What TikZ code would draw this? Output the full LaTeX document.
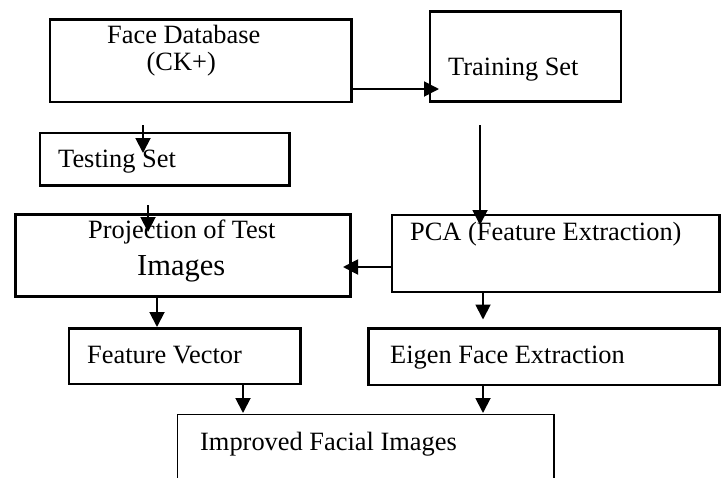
\documentclass[tikz,border=0pt]{standalone}
\usepackage{fontspec}
\setmainfont{Liberation Serif}
\usetikzlibrary{arrows.meta}
\begin{document}
\begin{tikzpicture}[x=1pt,y=-1pt,
  box/.style={draw, line width=2.8pt, rectangle, inner sep=0pt, outer sep=0pt},
  thinbox/.style={draw, line width=1.6pt, rectangle, inner sep=0pt, outer sep=0pt},
  lbl/.style={anchor=base west, inner sep=0pt, font=\fontsize{26.4}{30}\selectfont},
  biglbl/.style={anchor=base west, inner sep=0pt, font=\fontsize{30.5}{34}\selectfont},
  arr/.style={line width=1.9pt, -{Triangle[length=15pt,width=15pt]}}]
\useasboundingbox (0,0) rectangle (725,477);
\clip (0,0) rectangle (725,477);

% boxes
\node[box, minimum width=301.3pt, minimum height=82.5pt] (fdb) at (200.65,60.75) {};
\node[box, minimum width=191pt, minimum height=90pt] (trn) at (525.5,56.5) {};
\node[box, minimum width=249.5pt, minimum height=52.5pt] (tst) at (164.75,159.25) {};
\node[box, minimum width=335.5pt, minimum height=82.1pt] (prj) at (183.05,255.65) {};
\node[box, minimum width=327.7pt, minimum height=77pt] (pca) at (555.85,253.5) {};
\node[box, minimum width=231.5pt, minimum height=55.3pt] (fv) at (184.75,356.35) {};
\node[box, minimum width=351.4pt, minimum height=56.3pt] (eig) at (544,356.85) {};
\node[thinbox, minimum width=376.5pt, minimum height=95.5pt] (imp) at (365.75,462.25) {};

% labels
\node[lbl] (tfdb1) at (107,43.5) {Face Database};
\node[lbl] (tfdb2) at (146.5,70.5) {(CK+)};
\node[lbl] (ttrn) at (448,75) {Training Set};
\node[lbl] (ttst) at (58,167) {Testing Set};
\node[lbl] (tprj1) at (88,238) {Projection of Test};
\node[biglbl] (tprj2) at (137,275) {Images};
\node[lbl] (tpca) at (410,240) {PCA (Feature Extraction)};
\node[lbl] (tfv) at (87,363) {Feature Vector};
\node[lbl] (teig) at (390,363) {Eigen Face Extraction};
\node[lbl] (timp) at (200,450) {Improved Facial Images};

% connectors
\draw[arr] ([shift={(0,28.25)}]fdb.east) -- ([shift={(9,32.5)}]trn.west);
\draw[arr] ([shift={(93,23)}]fdb.south west) -- ([shift={(103,20)}]tst.north west);
\draw[arr] ([shift={(50,23.5)}]trn.south west) -- ([shift={(88,10)}]pca.north west);
\draw[arr] ([shift={(108,19.5)}]tst.south west) -- ([shift={(132.7,17.4)}]prj.north west);
\draw[arr] ([shift={(0,13.5)}]pca.west) -- ([shift={(-7.8,11.35)}]prj.east);
\draw[arr] ([shift={(141.7,0)}]prj.south west) -- ([shift={(88,-1.7)}]fv.north west);
\draw[arr] ([shift={(91,0)}]pca.south west) -- ([shift={(114.7,-9.2)}]eig.north west);
\draw[arr] ([shift={(174,0)}]fv.south west) -- ([shift={(65.5,-1.5)}]imp.north west);
\draw[arr] ([shift={(114.7,0)}]eig.south west) -- ([shift={(305.5,-1.5)}]imp.north west);
\end{tikzpicture}
\end{document}
